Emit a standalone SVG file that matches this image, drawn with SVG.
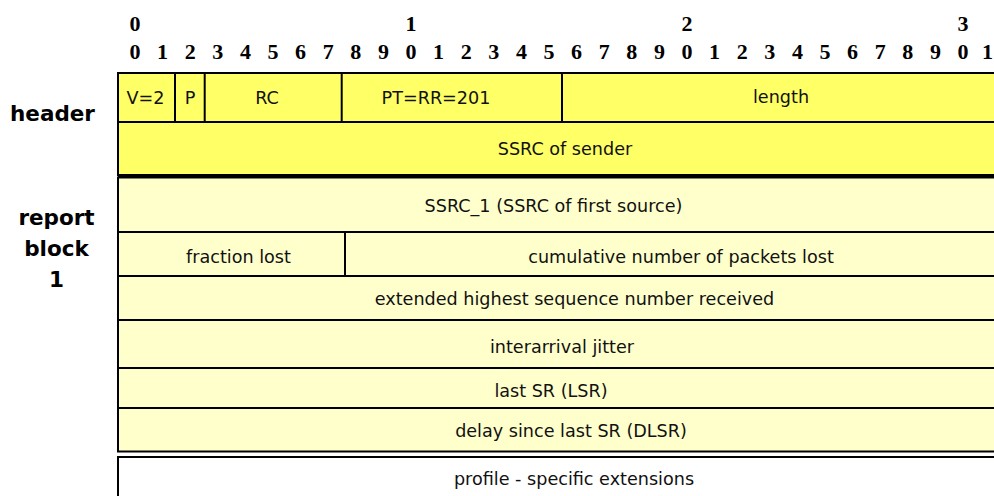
<svg xmlns="http://www.w3.org/2000/svg" width="994" height="496" viewBox="0 0 994 496">
<style>
.bit{font-family:"Liberation Serif","Times New Roman",serif;font-weight:bold;font-size:22px;fill:#000;text-anchor:middle}
.lbl{font-family:"DejaVu Sans",Verdana,sans-serif;font-weight:bold;font-size:21.5px;fill:#000;text-anchor:middle}
.t{font-family:"DejaVu Sans",Verdana,sans-serif;font-size:17.6px;fill:#111;text-anchor:middle}
.hdr{fill:#FFFF66;stroke:#000;stroke-width:2}
.rb{fill:#FFFFCC;stroke:#000;stroke-width:2}
.ext{fill:#FFFFFF;stroke:#000;stroke-width:2}
.div{stroke:#000;stroke-width:2}
</style>
<rect width="994" height="496" fill="#fff"/>
<g id="bits">
<text class="bit" x="135" y="30.5">0</text>
<text class="bit" x="411" y="30.5">1</text>
<text class="bit" x="687" y="30.5">2</text>
<text class="bit" x="963" y="30.5">3</text>
<text class="bit" y="58.5"><tspan x="135">0</tspan><tspan x="162.6">1</tspan><tspan x="190.2">2</tspan><tspan x="217.8">3</tspan><tspan x="245.4">4</tspan><tspan x="273">5</tspan><tspan x="300.6">6</tspan><tspan x="328.2">7</tspan><tspan x="355.8">8</tspan><tspan x="383.4">9</tspan><tspan x="411">0</tspan><tspan x="438.6">1</tspan><tspan x="466.2">2</tspan><tspan x="493.8">3</tspan><tspan x="521.4">4</tspan><tspan x="549">5</tspan><tspan x="576.6">6</tspan><tspan x="604.2">7</tspan><tspan x="631.8">8</tspan><tspan x="659.4">9</tspan><tspan x="687">0</tspan><tspan x="714.6">1</tspan><tspan x="742.2">2</tspan><tspan x="769.8">3</tspan><tspan x="797.4">4</tspan><tspan x="825">5</tspan><tspan x="852.6">6</tspan><tspan x="880.2">7</tspan><tspan x="907.8">8</tspan><tspan x="935.4">9</tspan><tspan x="963">0</tspan><tspan x="987.5">1</tspan></text>
</g>
<g id="labels">
<text class="lbl" x="52.5" y="121">header</text>
<text class="lbl" x="56.5" y="225">report</text>
<text class="lbl" x="56.5" y="256">block</text>
<text class="lbl" x="56.5" y="287">1</text>
</g>
<g id="header">
<rect class="hdr" x="118" y="73" width="890" height="49"/>
<rect class="hdr" x="118" y="122" width="890" height="53"/>
<line class="div" x1="118" y1="176" x2="1000" y2="176"/>
<line class="div" x1="175" y1="73" x2="175" y2="122"/>
<line class="div" x1="204.7" y1="73" x2="204.7" y2="122"/>
<line class="div" x1="341.7" y1="73" x2="341.7" y2="122"/>
<line class="div" x1="562" y1="73" x2="562" y2="122"/>
<text class="t" x="145.5" y="103.5">V=2</text>
<text class="t" x="190" y="103.5">P</text>
<text class="t" x="267" y="103.5">RC</text>
<text class="t" x="436" y="103.5">PT=RR=201</text>
<text class="t" x="781" y="103">length</text>
<text class="t" x="565" y="155">SSRC of sender</text>
</g>
<g id="report-block-1">
<rect class="rb" x="118" y="177.5" width="890" height="54.5"/>
<rect class="rb" x="118" y="232" width="890" height="44"/>
<rect class="rb" x="118" y="276" width="890" height="44"/>
<rect class="rb" x="118" y="320" width="890" height="48"/>
<rect class="rb" x="118" y="368" width="890" height="40"/>
<rect class="rb" x="118" y="408" width="890" height="43.5"/>
<line class="div" x1="345" y1="232" x2="345" y2="276"/>
<text class="t" x="553.5" y="212">SSRC_1 (SSRC of first source)</text>
<text class="t" x="238.5" y="263">fraction lost</text>
<text class="t" x="681" y="263">cumulative number of packets lost</text>
<text class="t" x="574.5" y="305">extended highest sequence number received</text>
<text class="t" x="562" y="353">interarrival jitter</text>
<text class="t" x="551" y="396.5">last SR (LSR)</text>
<text class="t" x="571" y="436.5">delay since last SR (DLSR)</text>
</g>
<g id="extensions">
<rect class="ext" x="118" y="457" width="890" height="60"/>
<text class="t" x="574" y="485">profile - specific extensions</text>
</g>
</svg>
